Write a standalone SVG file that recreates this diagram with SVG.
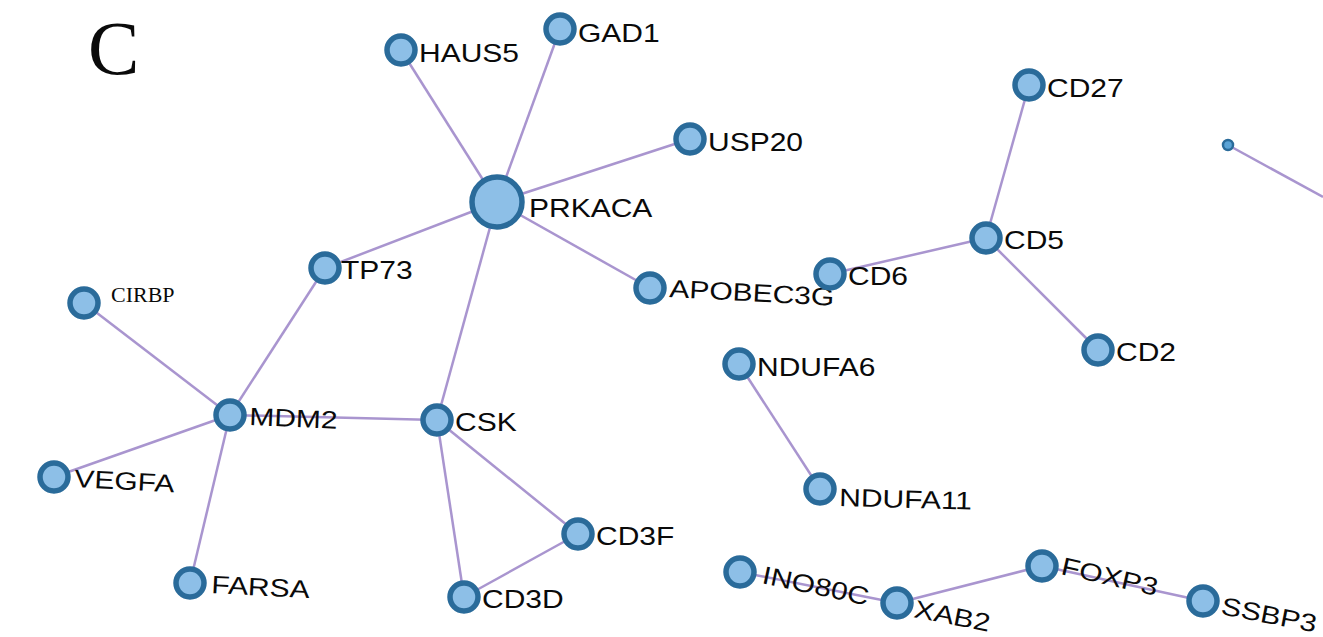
<svg xmlns="http://www.w3.org/2000/svg" width="1323" height="637" viewBox="0 0 1323 637">
<style>
.e{stroke:#a995cf;stroke-width:2.5;fill:none}
.n{fill:#8dbfe7;stroke:#2a6b9a;stroke-width:5.5}
.t{font-family:"Liberation Sans",Arial,sans-serif;font-size:25px;fill:#0a0a0a}
.s{font-family:"Liberation Serif","Times New Roman",serif;fill:#0a0a0a}
</style>
<rect width="1323" height="637" fill="#fff"/>
<text class="s" x="88" y="74" font-size="77">C</text>
<g id="edges">
<line class="e" x1="497" y1="202" x2="401" y2="50"/>
<line class="e" x1="497" y1="202" x2="560" y2="29"/>
<line class="e" x1="497" y1="202" x2="690" y2="139"/>
<line class="e" x1="497" y1="202" x2="325" y2="268"/>
<line class="e" x1="497" y1="202" x2="650" y2="288"/>
<line class="e" x1="497" y1="202" x2="437" y2="420"/>
<line class="e" x1="325" y1="268" x2="230" y2="415"/>
<line class="e" x1="84" y1="303" x2="230" y2="415"/>
<line class="e" x1="54" y1="477" x2="230" y2="415"/>
<line class="e" x1="190" y1="583" x2="230" y2="415"/>
<line class="e" x1="230" y1="415" x2="437" y2="420"/>
<line class="e" x1="437" y1="420" x2="578" y2="534"/>
<line class="e" x1="437" y1="420" x2="464" y2="597"/>
<line class="e" x1="464" y1="597" x2="578" y2="534"/>
<line class="e" x1="1029" y1="85" x2="986" y2="238"/>
<line class="e" x1="986" y1="238" x2="830" y2="274"/>
<line class="e" x1="986" y1="238" x2="1098" y2="350"/>
<line class="e" x1="739" y1="364" x2="820" y2="489"/>
<line class="e" x1="740" y1="572" x2="897" y2="603"/>
<line class="e" x1="897" y1="603" x2="1042" y2="566"/>
<line class="e" x1="1042" y1="566" x2="1203" y2="601"/>
<line class="e" x1="1228" y1="145" x2="1323" y2="197"/>
</g>
<g id="PRKACA"><circle class="n" cx="497" cy="202" r="25"/><text class="t" transform="translate(529,217) scale(1.2,1)">PRKACA</text></g>
<g id="HAUS5"><circle class="n" cx="401" cy="50" r="14"/><text class="t" transform="translate(419,62) scale(1.2,1)">HAUS5</text></g>
<g id="GAD1"><circle class="n" cx="560" cy="29" r="14"/><text class="t" transform="translate(578,42) scale(1.2,1)">GAD1</text></g>
<g id="USP20"><circle class="n" cx="690" cy="139" r="14"/><text class="t" transform="translate(708,151) scale(1.2,1)">USP20</text></g>
<g id="TP73"><circle class="n" cx="325" cy="268" r="14"/><text class="t" transform="translate(341,279) scale(1.2,1)">TP73</text></g>
<g id="APOBEC3G"><circle class="n" cx="650" cy="288" r="14"/><text class="t" transform="translate(669,297) rotate(3) scale(1.2,1)">APOBEC3G</text></g>
<g id="CSK"><circle class="n" cx="437" cy="420" r="14"/><text class="t" transform="translate(455,431) scale(1.2,1)">CSK</text></g>
<g id="MDM2"><circle class="n" cx="230" cy="415" r="14"/><text class="t" transform="translate(249,425) rotate(2.5) scale(1.2,1)">MDM2</text></g>
<g id="CIRBP"><circle class="n" cx="84" cy="303" r="14"/><text class="s" x="111" y="302" font-size="22">CIRBP</text></g>
<g id="VEGFA"><circle class="n" cx="54" cy="477" r="14"/><text class="t" transform="translate(74,487) rotate(3) scale(1.2,1)">VEGFA</text></g>
<g id="FARSA"><circle class="n" cx="190" cy="583" r="14"/><text class="t" transform="translate(211,593) rotate(3) scale(1.2,1)">FARSA</text></g>
<g id="CD3F"><circle class="n" cx="578" cy="534" r="14"/><text class="t" transform="translate(596,545) scale(1.2,1)">CD3F</text></g>
<g id="CD3D"><circle class="n" cx="464" cy="597" r="14"/><text class="t" transform="translate(482,608) scale(1.2,1)">CD3D</text></g>
<g id="CD27"><circle class="n" cx="1029" cy="85" r="14"/><text class="t" transform="translate(1047,97) scale(1.2,1)">CD27</text></g>
<g id="CD5"><circle class="n" cx="986" cy="238" r="14"/><text class="t" transform="translate(1004,249) scale(1.2,1)">CD5</text></g>
<g id="CD6"><circle class="n" cx="830" cy="274" r="14"/><text class="t" transform="translate(848,285) scale(1.2,1)">CD6</text></g>
<g id="CD2"><circle class="n" cx="1098" cy="350" r="14"/><text class="t" transform="translate(1116,361) scale(1.2,1)">CD2</text></g>
<g id="NDUFA6"><circle class="n" cx="739" cy="364" r="14"/><text class="t" transform="translate(757,376) scale(1.2,1)">NDUFA6</text></g>
<g id="NDUFA11"><circle class="n" cx="820" cy="489" r="14"/><text class="t" transform="translate(839,506) rotate(1.5) scale(1.2,1)">NDUFA11</text></g>
<g id="INO80C"><circle class="n" cx="740" cy="572" r="14"/><text class="t" transform="translate(761,583) rotate(12) scale(1.2,1)">INO80C</text></g>
<g id="XAB2"><circle class="n" cx="897" cy="603" r="14"/><text class="t" transform="translate(913,617) rotate(11) scale(1.2,1)">XAB2</text></g>
<g id="FOXP3"><circle class="n" cx="1042" cy="566" r="14"/><text class="t" transform="translate(1060,574) rotate(13) scale(1.2,1)">FOXP3</text></g>
<g id="SSBP3"><circle class="n" cx="1203" cy="601" r="14"/><text class="t" transform="translate(1220,614) rotate(11) scale(1.2,1)">SSBP3</text></g>
<g id="small"><circle cx="1228" cy="145" r="5" fill="#5aa3d6" stroke="#2a6b9a" stroke-width="2.5"/></g>
</svg>
